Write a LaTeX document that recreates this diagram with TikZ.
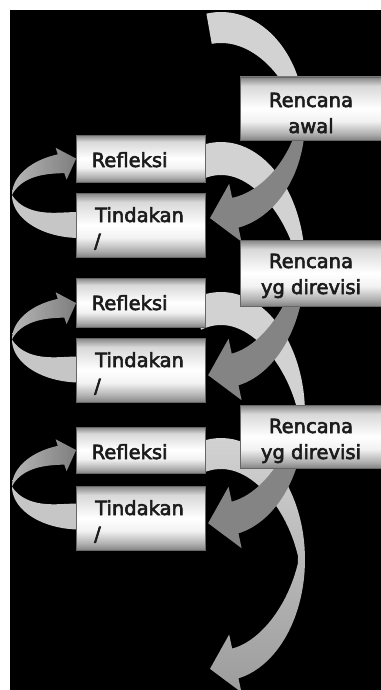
\documentclass[tikz,border=0pt]{standalone}
\usepackage{fontspec}
\setmainfont{DejaVu Sans}
\newfontfamily\boxfont{DejaVu Sans}[FakeBold=3]
\usetikzlibrary{calc}
\definecolor{lite}{HTML}{D2D2D2}
\definecolor{drk}{HTML}{848484}
\definecolor{arcend}{HTML}{9C9C9C}
\definecolor{loopL}{HTML}{C6C6C6}
\definecolor{loopA}{HTML}{B6B6B6}
\definecolor{loopB}{HTML}{7E7E7E}
\definecolor{bxA}{HTML}{848484}
\definecolor{bxB}{HTML}{B0B0B0}
\definecolor{bxC}{HTML}{F2F2F2}
\definecolor{bxD}{HTML}{D8D8D8}
\definecolor{txt}{HTML}{1C1C1C}
\pgfdeclareverticalshading{boxsh}{100bp}{color(0bp)=(bxA); color(25bp)=(bxA); color(30bp)=(bxB); color(40bp)=(bxC); color(50bp)=(white); color(68bp)=(bxD); color(75bp)=(bxA); color(100bp)=(bxA)}
% band: cx cy A B W k ts te style
\newcommand{\ribband}[9]{%
  \fill[#9] plot[domain=#7:#8,samples=50] ({#1+#3*cos(\x)},{#2+#4*sin(\x)})
    -- plot[domain=#8:#7,samples=50] ({#1+(#3-#5*(#6+(1-#6)*abs(sin(\x))))*cos(\x)},{#2+(#4-#5*(#6+(1-#6)*abs(sin(\x))))*sin(\x)}) -- cycle;}
% band with arrow head at the end
\newcommand{\ribarrow}[9]{%
  \pgfmathsetmacro\rwE{#5*(#6+(1-#6)*abs(sin(#8)))}%
  \path ({#1+#3*cos(#8)},{#2+#4*sin(#8)}) coordinate (rO)
        ({#1+(#3-\rwE)*cos(#8)},{#2+(#4-\rwE)*sin(#8)}) coordinate (rI);
  \path ($(rO)!0.5!(rI)$) coordinate (rM)
        ($(rI)!\rbarb!(rO)$) coordinate (rBO)
        ($(rO)!\rbarb!(rI)$) coordinate (rBI);
  \pgfmathsetmacro\rL{\rwE*\rtip}%
  \path ($(rM)!\rL pt!-90:(rO)$) coordinate (rT);
  \fill[#9] plot[domain=#7:#8,samples=50] ({#1+#3*cos(\x)},{#2+#4*sin(\x)})
    -- (rBO) -- (rT) -- (rBI)
    -- plot[domain=#8:#7,samples=50] ({#1+(#3-#5*(#6+(1-#6)*abs(sin(\x))))*cos(\x)},{#2+(#4-#5*(#6+(1-#6)*abs(sin(\x))))*sin(\x)}) -- cycle;}
\tikzset{
  boxst/.style={draw=black!60, line width=0.5pt, shade, shading=boxsh, inner sep=0pt},
  smallbox/.style={boxst, minimum width=129pt},
  bigbox/.style={boxst, minimum width=142pt},
  lbl/.style={text=txt, inner sep=0pt, font=\boxfont\fontsize{19.5}{26}\selectfont}
}
\begin{document}
\begin{tikzpicture}[x=1pt,y=-1pt]
\useasboundingbox (0,0) rectangle (380,690);
\fill[white] (0,0) rectangle (380,690);
\fill[black] (10,10) rectangle (381,691);

% big arcs (drawn from the bottom one up)
\def\rbarb{1.47}\def\rtip{0.85}
\ribarrow{221}{559.5}{84}{121.5}{31}{0.2}{-108}{78}{top color=lite, bottom color=arcend}
\ribband{221}{414}{84}{122}{33}{0.2}{-112}{14}{lite}
\ribarrow{221}{414}{84}{122}{33}{0.2}{10}{78}{drk}
\ribband{221}{265}{84}{123}{33}{0.2}{-112}{7}{lite}
\ribarrow{221}{265}{84}{123}{33}{0.2}{3}{78}{drk}
\ribband{221}{121}{84}{109}{31}{0.2}{-100}{2}{lite}
\ribarrow{221}{121}{84}{109}{31}{0.2}{-2}{78}{drk}

% left loops
\def\rbarb{1.35}\def\rtip{0.8}
\foreach \cy in {195,339.5,486.5}{
  \ribband{80}{\cy}{68}{43}{26}{0}{80}{180}{loopL}
  \ribarrow{80}{\cy}{68}{43}{21}{0}{180}{251}{left color=loopA, right color=loopB}
}

% boxes
\node[bigbox, minimum height=63pt] (ra) at (311,108.5) {};
\node[smallbox, minimum height=47pt] (rf1) at (140.5,158.5) {};
\node[smallbox, minimum height=64pt] (td1) at (140.5,225) {};
\node[bigbox, minimum height=66pt] (rr1) at (311,273) {};
\node[smallbox, minimum height=49pt] (rf2) at (140.5,302.5) {};
\node[smallbox, minimum height=64pt] (td2) at (140.5,370) {};
\node[bigbox, minimum height=63pt] (rr2) at (311,436.5) {};
\node[smallbox, minimum height=46pt] (rf3) at (140.5,450) {};
\node[smallbox, minimum height=64pt] (td3) at (140.5,518) {};

% texts
\node[lbl, anchor=base] (ra1) at (311,107) {Rencana};
\node[lbl, anchor=base] (ra2) at (311,133) {awal};
\node[lbl, anchor=base] (rr1a) at (311,268) {Rencana};
\node[lbl, anchor=base] (rr1b) at (311,294) {yg direvisi};
\node[lbl, anchor=base] (rr2a) at (311,433) {Rencana};
\node[lbl, anchor=base] (rr2b) at (311,459) {yg direvisi};
\node[lbl, anchor=base west] (rf1t) at (91.5,167) {Refleksi};
\node[lbl, anchor=base west] (rf2t) at (91.5,310) {Refleksi};
\node[lbl, anchor=base west] (rf3t) at (91.5,459) {Refleksi};
\node[lbl, anchor=base west] (td1a) at (95,222) {Tindakan};
\node[lbl, anchor=base west] (td1b) at (94,248) {/};
\node[lbl, anchor=base west] (td2a) at (95,367) {Tindakan};
\node[lbl, anchor=base west] (td2b) at (94,393) {/};
\node[lbl, anchor=base west] (td3a) at (95,515) {Tindakan};
\node[lbl, anchor=base west] (td3b) at (94,541) {/};
\end{tikzpicture}
\end{document}
